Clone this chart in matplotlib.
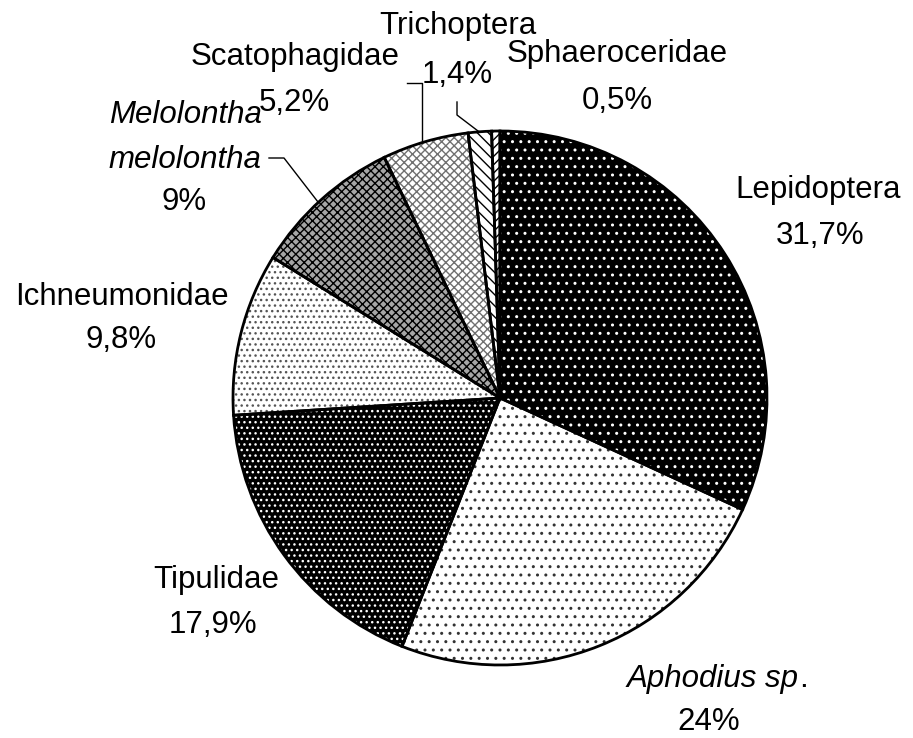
import matplotlib
matplotlib.use("Agg")
import matplotlib.pyplot as plt
from matplotlib.lines import Line2D

plt.rcParams['font.family'] = ['Liberation Sans', 'DejaVu Sans']
plt.rcParams['hatch.linewidth'] = 1.0

# ---- data ----
taxa = ["Lepidoptera", "Aphodius sp.", "Tipulidae", "Ichneumonidae",
        "Melolontha melolontha", "Scatophagidae", "Trichoptera", "Sphaeroceridae"]
shares = [31.7, 24.0, 17.9, 9.8, 9.0, 5.2, 1.4, 0.5]
share_labels = ["31,7%", "24%", "17,9%", "9,8%", "9%", "5,2%", "1,4%", "0,5%"]

# ---- styles (face colour, hatch, hatch colour) ----
faces = ["black", "white", "black", "white", "#a6a6a6", "white", "white", "white"]
hatches = ["..", "..", "...", "...", "xxxx", "xxxx", "\\\\\\", "////"]
hatch_cols = ["white", "#333333", "white", "#555555", "black", "#707070", "black", "black"]

W, H = 913, 738
fig = plt.figure(figsize=(W / 100, H / 100), dpi=100)

cx, cy, r = 500, 398, 267
ax = fig.add_axes([(cx - r) / W, 1 - (cy + r) / H, 2 * r / W, 2 * r / H])

wedges, _ = ax.pie(shares, startangle=90, counterclock=False, radius=1)
for w, fc, ht, hc in zip(wedges, faces, hatches, hatch_cols):
    w.set_facecolor(fc)
    w.set_edgecolor(hc)
    w.set_hatch(ht)
    w.set_linewidth(0)

ax.pie(shares, startangle=90, counterclock=False, radius=1,
       wedgeprops=dict(fill=False, edgecolor="black", linewidth=2))
ax.set_xlim(-1, 1)
ax.set_ylim(-1, 1)
ax.set_aspect("equal")
ax.axis("off")


def put(x, y, s, ha="center", **kw):
    fig.text(x / W, 1 - y / H, s, ha=ha, va="center", fontsize=22.5, **kw)


# label placement (pixels)
put(818, 190, "Lepidoptera")
put(820, 236, share_labels[0])
put(799, 679, "Aphodius sp", ha="right", style="italic")
put(799, 679, ".", ha="left")
put(709, 722, share_labels[1])
put(216, 580, "Tipulidae")
put(213, 625, share_labels[2])
put(122, 297, "Ichneumonidae")
put(121, 340, share_labels[3])
put(185, 115, "Melolontha", style="italic")
put(185, 160, "melolontha", style="italic")
put(184, 202, share_labels[4])
put(295, 57, "Scatophagidae")
put(294, 103, share_labels[5])
put(458, 26, "Trichoptera")
put(457, 75, share_labels[6])
put(617, 54, "Sphaeroceridae")
put(617, 101, share_labels[7])

# leader lines
leaders = [
    [(269, 158), (284, 158), (318, 202)],
    [(407, 83), (422, 83), (422, 142)],
    [(457, 102), (457, 115), (478, 131)],
]
for pts in leaders:
    xs = [p[0] / W for p in pts]
    ys = [1 - p[1] / H for p in pts]
    fig.add_artist(Line2D(xs, ys, color="black", lw=1))

fig.savefig("out.png", dpi=100, facecolor="white")
